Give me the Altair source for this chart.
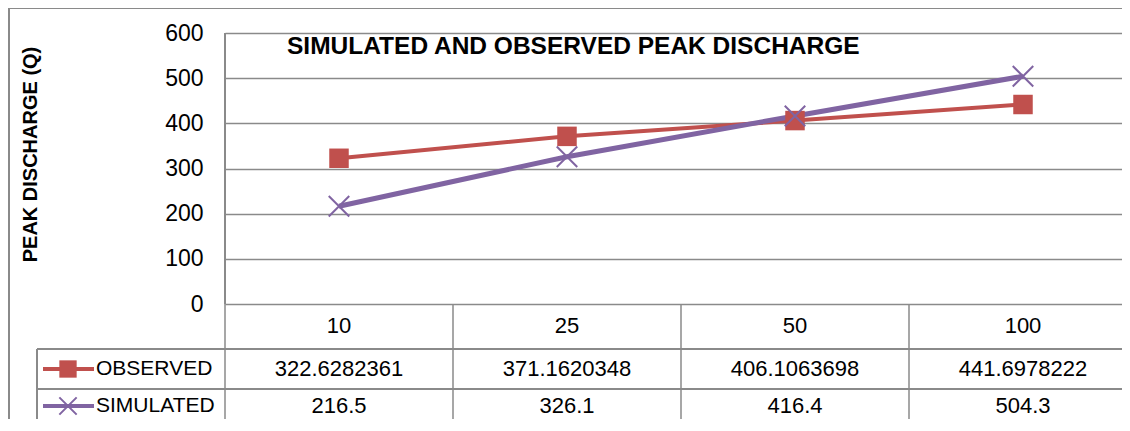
import altair as alt
import pandas as pd

CATS = ["10", "25", "50", "100"]
OBSERVED = [322.6282361, 371.1620348, 406.1063698, 441.6978222]
SIMULATED = [216.5, 326.1, 416.4, 504.3]
OBS_LABELS = ["322.6282361", "371.1620348", "406.1063698", "441.6978222"]
SIM_LABELS = ["216.5", "326.1", "416.4", "504.3"]
SERIES = ["OBSERVED", "SIMULATED"]
TITLE = "SIMULATED AND OBSERVED PEAK DISCHARGE"
Y_TITLE = "PEAK DISCHARGE (Q)"
Y_TICKS = [0, 100, 200, 300, 400, 500, 600]

RED = "#C0504D"
PURPLE = "#8064A2"
GRID = "#8A8A8A"
FONT = "Liberation Sans, Arial, sans-serif"
X_PATH = "M-1,-1L1,1M-1,1L1,-1"

W, H = 897, 271
BOTTOM = 392
ROW_HEAD, ROW_OBS, ROW_SIM = 293, 336, 373
LINE1, LINE2 = 316, 356

df = pd.DataFrame({
    "cat": CATS * 2,
    "series": [SERIES[0]] * 4 + [SERIES[1]] * 4,
    "value": OBSERVED + SIMULATED,
    "label": OBS_LABELS + SIM_LABELS,
})
cats_df = pd.DataFrame({"cat": CATS})

xscale = alt.Scale(type="band", domain=CATS, range=[0, 912], paddingInner=0, paddingOuter=0)
X = alt.X("cat:N", sort=CATS, scale=xscale, axis=None)
Y = alt.Y("value:Q", scale=alt.Scale(domain=[0, 600], nice=False),
          axis=alt.Axis(values=Y_TICKS, title=Y_TITLE, grid=True, gridColor=GRID, gridWidth=1.5,
                        domain=False, ticks=False, labelFont=FONT, labelFontSize=23,
                        labelColor="black", labelPadding=22, titleFont=FONT, titleFontSize=20,
                        titleFontWeight="bold", titleColor="black", titleAngle=270,
                        titleX=-195, titleY=121, titleAlign="center", titleBaseline="middle"))

base = alt.Chart(df)
obs = base.transform_filter(alt.datum.series == SERIES[0])
sim = base.transform_filter(alt.datum.series == SERIES[1])

obs_line = obs.mark_line(color=RED, strokeWidth=4).encode(x=X, y=Y)
sim_line = sim.mark_line(color=PURPLE, strokeWidth=5).encode(x=X, y=alt.Y("value:Q"))
obs_pts = obs.mark_point(shape="square", filled=True, color=RED, size=380, opacity=1).encode(x=X, y=alt.Y("value:Q"))
sim_pts = sim.mark_point(shape=X_PATH, filled=False, color=PURPLE, size=420, strokeWidth=2, opacity=1).encode(x=X, y=alt.Y("value:Q"))

# table lines
vlines = alt.Chart(cats_df).mark_rule(color=GRID, strokeWidth=1.5).encode(
    x=alt.X("cat:N", sort=CATS, scale=xscale, axis=None, bandPosition=0),
    y=alt.value(H), y2=alt.value(BOTTOM))
axis_line = alt.Chart(cats_df).mark_rule(color=GRID, strokeWidth=1.5).encode(
    x=alt.value(0), y=alt.value(0), y2=alt.value(H))
hline1 = alt.Chart(cats_df).mark_rule(color=GRID, strokeWidth=1.5).encode(
    x=alt.value(-188), x2=alt.value(W), y=alt.value(LINE1))
hline2 = alt.Chart(cats_df).mark_rule(color=GRID, strokeWidth=1.5).encode(
    x=alt.value(-188), x2=alt.value(W), y=alt.value(LINE2))
tleft = alt.Chart(cats_df).mark_rule(color=GRID, strokeWidth=1.5).encode(
    x=alt.value(-188), y=alt.value(LINE1), y2=alt.value(BOTTOM))
border_l = alt.Chart(cats_df).mark_rule(color=GRID, strokeWidth=2).encode(
    x=alt.value(-216), y=alt.value(-25), y2=alt.value(BOTTOM))
border_t = alt.Chart(cats_df).mark_rule(color=GRID, strokeWidth=2).encode(
    x=alt.value(-216), x2=alt.value(W), y=alt.value(-25))

# table texts
head_txt = alt.Chart(cats_df).mark_text(font=FONT, fontSize=22, color="black", baseline="middle").encode(
    x=alt.X("cat:N", sort=CATS, scale=xscale, axis=None), y=alt.value(ROW_HEAD), text="cat:N")
obs_txt = obs.mark_text(font=FONT, fontSize=22, color="black", baseline="middle").encode(
    x=X, y=alt.value(ROW_OBS), text="label:N")
sim_txt = sim.mark_text(font=FONT, fontSize=22, color="black", baseline="middle").encode(
    x=X, y=alt.value(ROW_SIM), text="label:N")

# legend keys inside the table
leg_df = pd.DataFrame({"series": SERIES})
leg_obs = leg_df[leg_df.series == SERIES[0]]
leg_sim = leg_df[leg_df.series == SERIES[1]]
k1_line = alt.Chart(leg_obs).mark_rule(color=RED, strokeWidth=4).encode(
    x=alt.value(-182), x2=alt.value(-131), y=alt.value(ROW_OBS))
k1_pt = alt.Chart(leg_obs).mark_point(shape="square", filled=True, color=RED, size=300, opacity=1).encode(
    x=alt.value(-157), y=alt.value(ROW_OBS))
k1_txt = alt.Chart(leg_obs).mark_text(font=FONT, fontSize=21, color="black", align="left", baseline="middle").encode(
    x=alt.value(-129), y=alt.value(ROW_OBS), text="series:N")
k2_line = alt.Chart(leg_sim).mark_rule(color=PURPLE, strokeWidth=4).encode(
    x=alt.value(-182), x2=alt.value(-131), y=alt.value(ROW_SIM))
k2_pt = alt.Chart(leg_sim).mark_point(shape=X_PATH, filled=False, color=PURPLE, size=300, strokeWidth=2, opacity=1).encode(
    x=alt.value(-157), y=alt.value(ROW_SIM))
k2_txt = alt.Chart(leg_sim).mark_text(font=FONT, fontSize=21, color="black", align="left", baseline="middle").encode(
    x=alt.value(-129), y=alt.value(ROW_SIM), text="series:N")

title_df = pd.DataFrame({"t": [TITLE]})
title_txt = alt.Chart(title_df).mark_text(font=FONT, fontSize=24.5, fontWeight="bold", color="black",
                                          align="left", baseline="alphabetic").encode(
    x=alt.value(62), y=alt.value(21), text="t:N")

chart = alt.layer(
    obs_line, border_l, border_t, axis_line, vlines, hline1, hline2, tleft,
    sim_line, obs_pts, sim_pts,
    head_txt, obs_txt, sim_txt,
    k1_line, k1_pt, k1_txt, k2_line, k2_pt, k2_txt,
    title_txt,
).properties(
    width=W, height=H,
    autosize=alt.AutoSizeParams(type="none"),
    padding={"left": 217, "top": 25, "right": 0, "bottom": 115},
    background="white",
).configure_view(strokeWidth=0)

chart.save("out.html", embed_options={"renderer": "svg", "actions": False})
